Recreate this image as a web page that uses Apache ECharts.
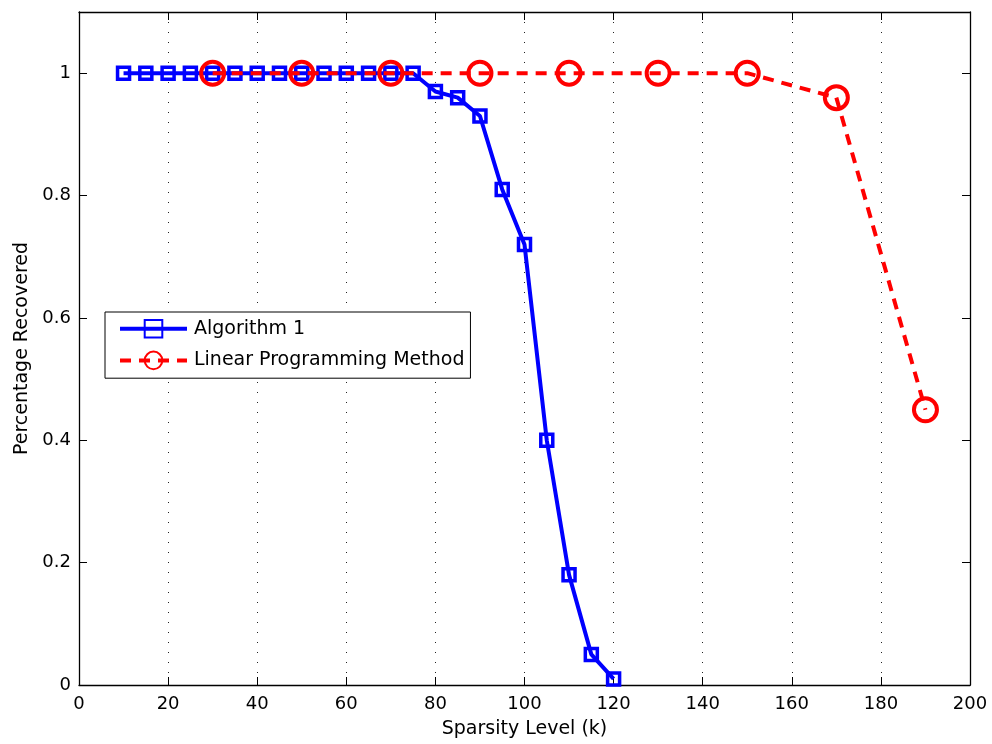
<!DOCTYPE html>
<html>
<head>
<meta charset="utf-8">
<script src="https://cdn.jsdelivr.net/npm/echarts@6/dist/echarts.min.js"></script>
<style>
  html, body { margin: 0; padding: 0; background: #fff; }
  #chart { width: 992px; height: 744px; }
</style>
</head>
<body>
<div id="chart"></div>
<script>
// Recovery rate against sparsity level k
const algK = [10, 15, 20, 25, 30, 35, 40, 45, 50, 55, 60, 65, 70, 75, 80, 85, 90, 95, 100, 105, 110, 115, 120];
const algRate = [1, 1, 1, 1, 1, 1, 1, 1, 1, 1, 1, 1, 1, 1, 0.97, 0.96, 0.93, 0.81, 0.72, 0.40, 0.18, 0.05, 0.01];
const lpK = [30, 50, 70, 90, 110, 130, 150, 170, 190];
const lpRate = [1, 1, 1, 1, 1, 1, 1, 0.96, 0.45];
const seriesNames = ['Algorithm 1', 'Linear Programming Method'];
const xTitle = 'Sparsity Level (k)';
const yTitle = 'Percentage Recovered';

const font = 'DejaVu Sans, Liberation Sans, Arial, sans-serif';
const pairs = (xs, ys) => xs.map((x, i) => [x, ys[i]]);

const chart = echarts.init(document.getElementById('chart'), null, { renderer: 'canvas' });

const tickStyle = { show: true, inside: true, length: 8, lineStyle: { color: '#000', width: 1 } };
const axisLineStyle = { show: true, onZero: false, lineStyle: { color: '#000', width: 1.3 } };

chart.setOption({
  animation: false,
  backgroundColor: '#fff',
  textStyle: { fontFamily: font },
  grid: { left: 79, right: 22, top: 12, bottom: 57, containLabel: false },
  legend: {
    orient: 'vertical',
    left: 105,
    top: 312,
    padding: [7, 6, 8, 13],
    itemGap: 12,
    itemWidth: 67,
    itemHeight: 22,
    backgroundColor: '#fff',
    borderColor: '#000',
    borderWidth: 1,
    lineStyle: { width: 4 },
    textStyle: { fontFamily: font, fontSize: 19, color: '#000', padding: [0, 0, 0, 2] },
    data: seriesNames
  },
  xAxis: [
    {
      type: 'value', min: 0, max: 200, interval: 20, position: 'bottom',
      name: xTitle, nameLocation: 'middle', nameGap: 35,
      nameTextStyle: { fontFamily: font, fontSize: 19, color: '#000' },
      axisLine: axisLineStyle, axisTick: tickStyle,
      axisLabel: { color: '#000', fontSize: 18, fontFamily: font, margin: 10 },
      splitLine: { show: true, lineStyle: { color: '#222', width: 1, type: [1, 9] } }
    },
    {
      type: 'value', min: 0, max: 200, interval: 20, position: 'top',
      axisLine: axisLineStyle, axisTick: tickStyle,
      axisLabel: { show: false }, splitLine: { show: false }
    }
  ],
  yAxis: [
    {
      type: 'value', min: 0, max: 1.1, interval: 0.2, position: 'left',
      name: yTitle, nameLocation: 'middle', nameGap: 46, nameRotate: 90,
      nameTextStyle: { fontFamily: font, fontSize: 19, color: '#000' },
      axisLine: axisLineStyle, axisTick: tickStyle,
      axisLabel: { color: '#000', fontSize: 18, fontFamily: font, margin: 8, showMaxLabel: false },
      splitLine: { show: false }
    },
    {
      type: 'value', min: 0, max: 1.1, interval: 0.2, position: 'right',
      axisLine: axisLineStyle, axisTick: tickStyle,
      axisLabel: { show: false }, splitLine: { show: false }
    }
  ],
  series: [
    {
      name: seriesNames[0], type: 'line', xAxisIndex: 0, yAxisIndex: 0,
      data: pairs(algK, algRate),
      symbol: 'rect', symbolSize: 12,
      lineStyle: { color: '#0000ff', width: 4 },
      itemStyle: { color: 'rgba(255,255,255,0)', borderColor: '#0000ff', borderWidth: 3.5 },
      z: 3
    },
    {
      name: seriesNames[1], type: 'line', xAxisIndex: 0, yAxisIndex: 0,
      data: pairs(lpK, lpRate),
      symbol: 'circle', symbolSize: 23,
      lineStyle: { color: '#ff0000', width: 4, type: [11, 8] },
      itemStyle: { color: 'rgba(255,255,255,0)', borderColor: '#ff0000', borderWidth: 4 },
      z: 4
    }
  ]
});
</script>
</body>
</html>
